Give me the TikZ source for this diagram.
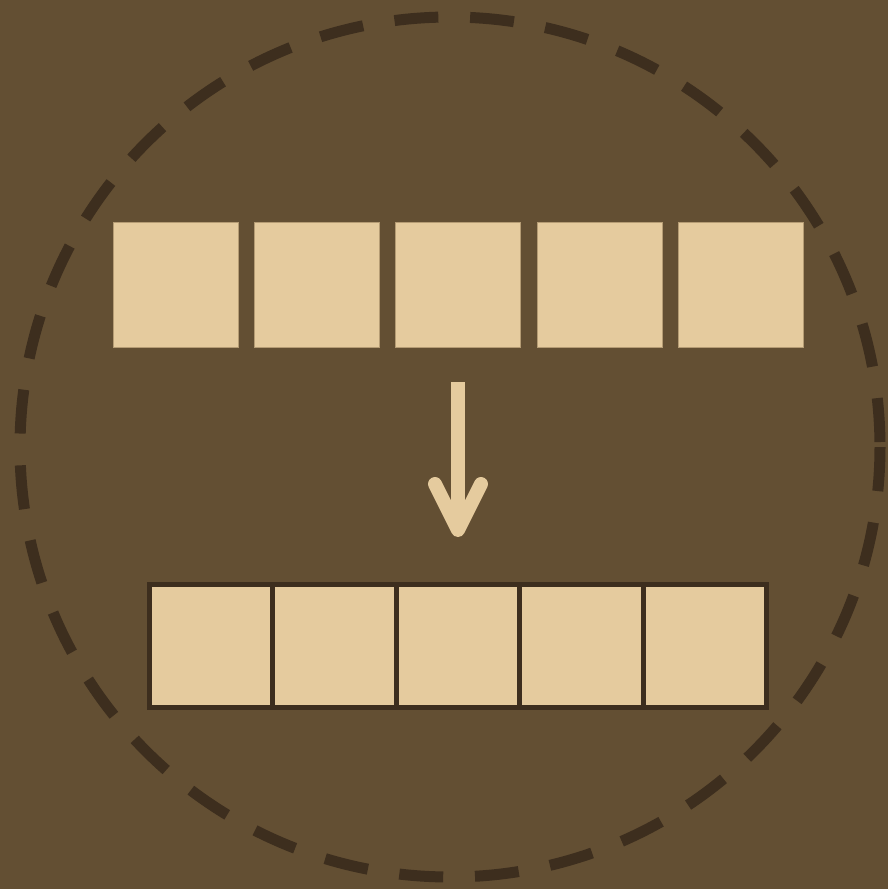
\documentclass[tikz,border=0pt]{standalone}
\usetikzlibrary{positioning}
\definecolor{bgbrown}{HTML}{634F33}
\definecolor{sand}{HTML}{E5CB9E}
\definecolor{sandedge}{HTML}{B59C74}
\definecolor{darkbrown}{HTML}{3D2E1E}
\tikzset{
  looseblock/.style={rectangle, fill=sand, draw=sandedge, line width=1pt,
    minimum width=125pt, minimum height=125pt, inner sep=0pt, outer sep=0pt},
  packedcell/.style={rectangle, fill=sand, draw=darkbrown, line width=5pt,
    minimum width=123.4pt, minimum height=123pt, inner sep=0pt, outer sep=0pt},
  ring/.style={draw=darkbrown, line width=11pt,
    dash pattern=on 44pt off 31.8pt, dash phase=70.8pt},
  flowline/.style={draw=sand, line width=14pt}
}
\begin{document}
\begin{tikzpicture}[x=1pt,y=-1pt]
  % canvas
  \fill[bgbrown] (0,0) rectangle (888,889);
  \useasboundingbox (0,0) rectangle (888,889);

  % dashed enclosing circle
  \coordinate (hub) at (450,447);
  \draw[ring] (hub) circle[radius=430pt];

  % upper row: separate blocks
  \foreach \i in {0,...,4}{
    \node[looseblock] (top\i) at ({175.8+141.25*\i},284.8) {};
  }

  % lower row: blocks packed edge to edge
  \foreach \i in {0,...,4}{
    \node[packedcell] (low\i) at ({211.2+123.4*\i},646) {};
  }

  % downward arrow between the rows (shifts are in page directions: up is positive)
  \coordinate (arrowstart) at (458,382);
  \coordinate (arrowend) at (458,530);
  \draw[flowline, line cap=butt] (arrowstart) -- (arrowend);
  \draw[flowline, line cap=round, line join=round]
    ([xshift=-23pt,yshift=46pt]arrowend) -- (arrowend)
    -- ([xshift=23pt,yshift=46pt]arrowend);
\end{tikzpicture}
\end{document}
